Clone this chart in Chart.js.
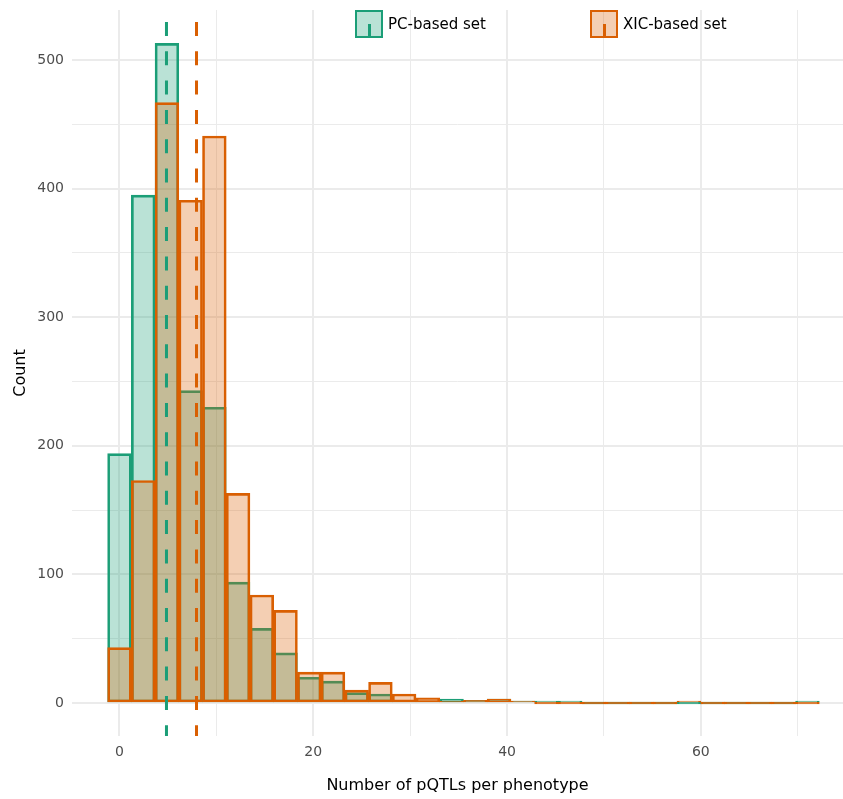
<!DOCTYPE html>
<html lang="en">
<head>
  <meta charset="UTF-8" />
  <title>pQTLs per phenotype</title>
  <script src="https://cdn.jsdelivr.net/npm/chart.js"></script>
  <style>
    body { margin: 0; background: #fff; font-family: "DejaVu Sans", sans-serif; }
    .wrap { position: relative; width: 843px; height: 799px; }
    .legend { position: absolute; top: 10px; left: 0; width: 843px; height: 28px; }
    .item { position: absolute; top: 0; display: flex; align-items: center; height: 28px; white-space: nowrap; }
    .key { position: relative; flex-shrink: 0; box-sizing: border-box; width: 28px; height: 28px; border: 2px solid; margin-right: 5px; }
    .key span { position: absolute; left: 10.5px; top: 12px; width: 3px; height: 14px; }
    .label { font-size: 15px; color: #000; }
  </style>
</head>
<body>
  <div class="wrap">
    <canvas id="histChart" width="843" height="799"></canvas>
    <div class="legend" id="legend"></div>
  </div>

  <script>
    // histogram bins (30 bins, width ~2.448), counts
    const binCenters = [0, 2.448, 4.897, 7.345, 9.793, 12.241, 14.69, 17.138, 19.586, 22.034,
      24.483, 26.931, 29.379, 31.828, 34.276, 36.724, 39.172, 41.621, 44.069, 46.517,
      48.966, 51.414, 53.862, 56.31, 58.759, 61.207, 63.655, 66.103, 68.552, 71];
    const pcCounts = [194, 395, 513, 243, 230, 94, 58, 39, 20, 17,
      8, 7, 1, 1, 3, 2, 3, 1, 1, 1,
      0, 0, 0, 0, 0, 0, 0, 0, 0, 1];
    const xicCounts = [43, 173, 467, 391, 441, 163, 84, 72, 24, 24,
      10, 16, 7, 4, 1, 2, 3, 1, 0, 0,
      0, 0, 0, 0, 1, 0, 0, 0, 0, 0];
    const seriesNames = ["PC-based set", "XIC-based set"];
    const seriesMeans = [4.85, 7.95];
    const xTicks = [0, 20, 40, 60];
    const yTicks = [0, 100, 200, 300, 400, 500];

    const colors = ["#1b9e77", "#d95f02"];
    const fills = ["rgba(27,158,119,0.3)", "rgba(217,95,2,0.3)"];
    const yMin = -25.7, yMax = 539;

    function barSet(i, counts, order) {
      return {
        type: 'bar',
        label: seriesNames[i],
        data: binCenters.map((x, k) => ({ x: x, y: counts[k] })),
        backgroundColor: fills[i],
        borderColor: colors[i],
        borderWidth: 2,
        borderSkipped: false,
        minBarLength: 2,
        grouped: false,
        categoryPercentage: 1,
        barPercentage: 1,
        order: order
      };
    }

    function meanLine(i) {
      return {
        type: 'line',
        label: seriesNames[i] + ' mean',
        data: [{ x: seriesMeans[i], y: yMin }, { x: seriesMeans[i], y: yMax }],
        borderColor: colors[i],
        borderWidth: 3,
        borderDash: [14, 15.3],
        borderDashOffset: 3.2,
        pointRadius: 0,
        fill: false,
        order: 0
      };
    }

    // major lines thicker than the minor ones
    const gridWidth = major => c => (c.tick && major.includes(c.tick.value) ? 2 : 1);

    const ctx = document.getElementById('histChart').getContext('2d');
    new Chart(ctx, {
      data: {
        datasets: [barSet(0, pcCounts, 2), barSet(1, xicCounts, 1), meanLine(0), meanLine(1)]
      },
      options: {
        responsive: false,
        animation: false,
        layout: { padding: { top: 10, right: 0, left: 0, bottom: 0 } },
        plugins: { legend: { display: false }, tooltip: { enabled: false } },
        scales: {
          x: {
            type: 'linear',
            min: -4.9,
            max: 74.67,
            offset: false,
            afterFit: s => { s.height = 63; s.paddingLeft = 0; s.paddingRight = 0; },
            border: { display: false },
            grid: { offset: false, drawTicks: false, color: '#ebebeb', lineWidth: gridWidth(xTicks) },
            ticks: {
              stepSize: 10,
              includeBounds: false,
              autoSkip: false,
              maxRotation: 0,
              padding: 8,
              color: '#4d4d4d',
              font: { family: 'DejaVu Sans', size: 14 },
              callback: v => (xTicks.includes(v) ? String(v) : '')
            },
            title: {
              display: true,
              text: 'Number of pQTLs per phenotype',
              color: '#000',
              font: { family: 'DejaVu Sans', size: 16 },
              padding: { top: 0, bottom: 4 }
            }
          },
          y: {
            type: 'linear',
            min: yMin,
            max: yMax,
            afterFit: s => { s.width = 72; s.paddingTop = 0; s.paddingBottom = 0; },
            border: { display: false },
            grid: { drawTicks: false, color: '#ebebeb', lineWidth: gridWidth(yTicks) },
            ticks: {
              stepSize: 50,
              includeBounds: false,
              autoSkip: false,
              padding: 8,
              color: '#4d4d4d',
              font: { family: 'DejaVu Sans', size: 14 },
              callback: v => (yTicks.includes(v) ? String(v) : '')
            },
            title: {
              display: true,
              text: 'Count',
              color: '#000',
              font: { family: 'DejaVu Sans', size: 16 },
              padding: { top: 11, bottom: 0 }
            }
          }
        }
      }
    });

    // legend: filled key with the mean line segment, like the ggplot keys
    const legend = document.getElementById('legend');
    const legendX = [355, 590];
    seriesNames.forEach((name, i) => {
      legend.innerHTML += `
        <div class="item" style="left:${legendX[i]}px">
          <div class="key" style="background:${fills[i]};border-color:${colors[i]}">
            <span style="background:${colors[i]}"></span>
          </div>
          <div class="label">${name}</div>
        </div>`;
    });
  </script>
</body>
</html>
